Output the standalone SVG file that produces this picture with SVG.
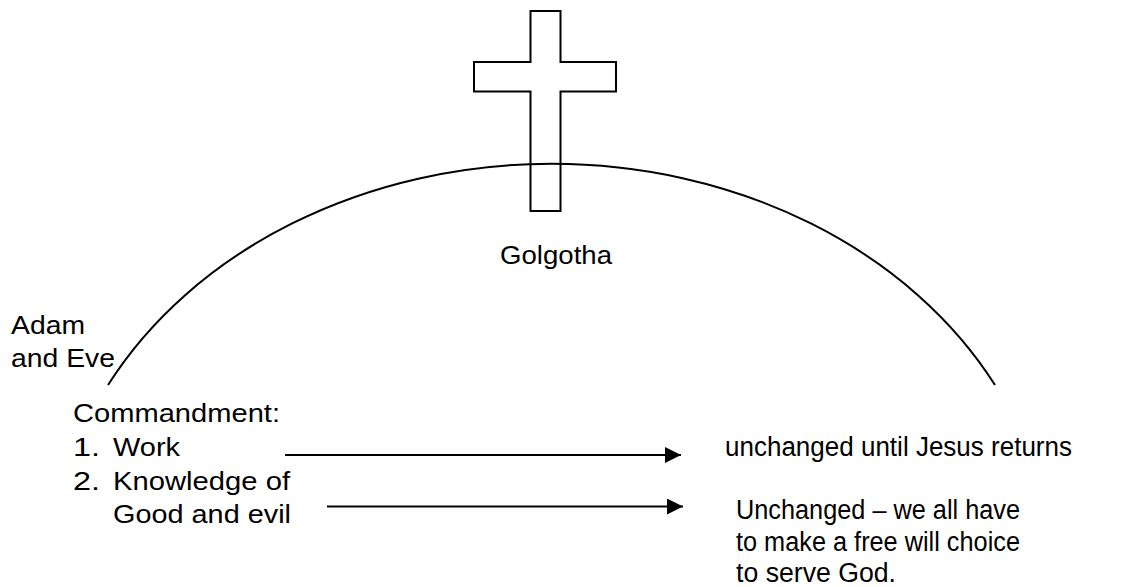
<svg xmlns="http://www.w3.org/2000/svg" width="1144" height="587" viewBox="0 0 1144 587">
<style>
text{font-family:"Liberation Sans",Arial,sans-serif;font-size:26px;fill:#000}
.r{font-size:27px}
.ln{fill:none;stroke:#000;stroke-width:2}
</style>
<defs>
<marker id="ah" markerUnits="userSpaceOnUse" markerWidth="16" markerHeight="16" refX="16" refY="8" orient="auto">
<path d="M0,0 L16,8 L0,16 Z" fill="#000"/>
</marker>
</defs>
<rect width="1144" height="587" fill="#fff"/>
<g id="hill">
<path class="ln" d="M108,385 A500,411 0 0 1 995,385"/>
</g>
<g id="cross">
<path class="ln" d="M530.5,11 H560.5 V62 H616 V91.5 H560.5 V211 H530.5 V91.5 H474 V62 H530.5 Z"/>
</g>
<g id="golgotha"><text x="500" y="264" textLength="112" lengthAdjust="spacingAndGlyphs">Golgotha</text></g>
<g id="adam-eve">
<text x="11" y="334" textLength="74" lengthAdjust="spacingAndGlyphs">Adam</text>
<text x="11" y="367" textLength="104" lengthAdjust="spacingAndGlyphs">and Eve</text>
</g>
<g id="commandment">
<text x="73" y="422" textLength="207" lengthAdjust="spacingAndGlyphs">Commandment:</text>
<text x="73" y="456" textLength="27" lengthAdjust="spacingAndGlyphs">1.</text><text x="113" y="456" textLength="67" lengthAdjust="spacingAndGlyphs">Work</text>
<text x="73" y="490" textLength="27" lengthAdjust="spacingAndGlyphs">2.</text><text x="113" y="490" textLength="177" lengthAdjust="spacingAndGlyphs">Knowledge of</text>
<text x="113" y="523" textLength="178" lengthAdjust="spacingAndGlyphs">Good and evil</text>
</g>
<g id="result1"><text class="r" x="725" y="456" textLength="347" lengthAdjust="spacingAndGlyphs">unchanged until Jesus returns</text></g>
<g id="result2">
<text class="r" x="736" y="519" textLength="284" lengthAdjust="spacingAndGlyphs">Unchanged – we all have</text>
<text class="r" x="736" y="551" textLength="284" lengthAdjust="spacingAndGlyphs">to make a free will choice</text>
<text class="r" x="736" y="582" textLength="160" lengthAdjust="spacingAndGlyphs">to serve God.</text>
</g>
<g id="connectors">
<line class="ln" x1="285" y1="455" x2="681" y2="455" marker-end="url(#ah)"/>
<line class="ln" x1="327" y1="506.5" x2="683" y2="506.5" marker-end="url(#ah)"/>
</g>
</svg>
